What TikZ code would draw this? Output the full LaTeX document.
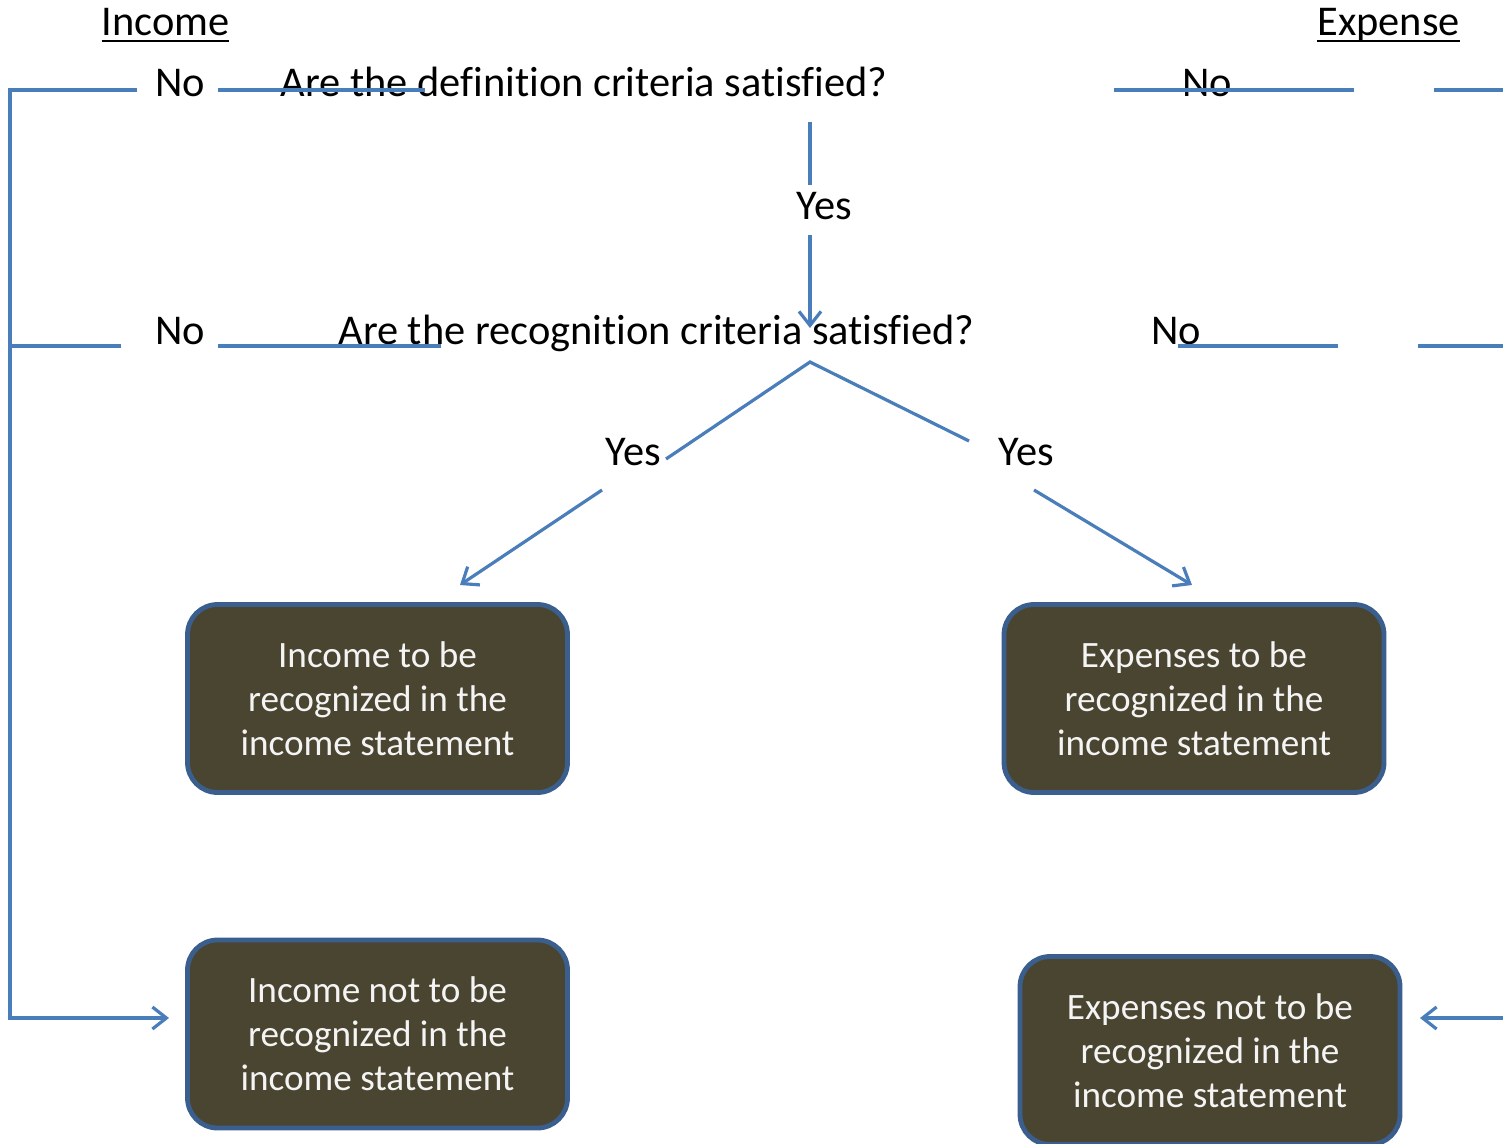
\documentclass[tikz,border=0pt]{standalone}
\usepackage{fontspec}
\setmainfont[Ligatures=NoCommon]{Carlito}
\usetikzlibrary{arrows.meta}
\definecolor{ln}{HTML}{4A7EBB}
\definecolor{bd}{HTML}{3A5F8E}
\definecolor{boxfill}{HTML}{4A4530}
\definecolor{boxtext}{HTML}{F4F4F4}
\newcommand\ulx[1]{\setbox0\hbox{#1}\rlap{\raisebox{-3.2pt}{\rule{\wd0}{1.3pt}}}\box0}
\begin{document}
\begin{tikzpicture}[x=0.5pt,y=-0.5pt,
  conn/.style={draw=ln, line width=1.6pt},
  arr/.style={conn, -{Straight Barb[length=7pt,width=11pt,line width=1.6pt]}},
  lbl/.style={font=\fontsize{21.2}{25}\selectfont, inner sep=0pt, anchor=base},
  rbox/.style={draw=bd, fill=boxfill, line width=2.4pt, rounded corners=15pt,
    text=boxtext, align=center, font=\fontsize{18.6}{22}\selectfont,
    minimum width=190pt, minimum height=94pt, inner sep=0pt}]
\useasboundingbox (0,0) rectangle (1503,1144);

% headings and labels
\node[lbl] (inc) at (165.5,36) {\ulx{Income}};
\node[lbl] (exp) at (1388.5,36) {\ulx{Expense}};
\node[lbl] (q1) at (584,97) {Are the definition criteria satisfied?};
\node[lbl] (q2) at (656.5,344) {Are the recognition criteria satisfied?};
\node[lbl] (no1) at (180,97) {No};
\node[lbl] (no2) at (180,344) {No};
\node[lbl] (no3) at (1207,97) {No};
\node[lbl] (no4) at (1176,344) {No};
\node[lbl] (y1) at (824,220) {Yes};
\node[lbl] (y2) at (633,465) {Yes};
\node[lbl] (y3) at (1026,465) {Yes};

% boxes
\node[rbox] (b1) at (377.5,698.5) {Income to be\\recognized in the\\income statement};
\node[rbox] (b2) at (1194,698.5) {Expenses to be\\recognized in the\\income statement};
\node[rbox] (b3) at (377.5,1034) {Income not to be\\recognized in the\\income statement};
\node[rbox] (b4) at (1210,1050.5) {Expenses not to be\\recognized in the\\income statement};

% coordinates
\coordinate (a1) at (137,90);
\coordinate (tl) at (10,90);
\coordinate (bl) at (10,1018);
\coordinate (t3) at (169,1018);
\coordinate (a2) at (218,90);
\coordinate (a3) at (425,90);
\coordinate (m1) at (121,346);
\coordinate (ml) at (10,346);
\coordinate (m2) at (218,346);
\coordinate (m3) at (441,346);
\coordinate (v1) at (810,122);
\coordinate (v2) at (810,185);
\coordinate (v3) at (810,235);
\coordinate (v4) at (810,328);
\coordinate (d0) at (810,362);
\coordinate (dl) at (666,459);
\coordinate (dr) at (969,441);
\coordinate (el1) at (602,490);
\coordinate (el2) at (460,585);
\coordinate (er1) at (1034,490);
\coordinate (er2) at (1192,585);
\coordinate (r1) at (1114,90);
\coordinate (r2) at (1354,90);
\coordinate (r3) at (1434,90);
\coordinate (r4) at (1503,90);
\coordinate (s1) at (1178,346);
\coordinate (s2) at (1338,346);
\coordinate (s3) at (1418,346);
\coordinate (s4) at (1503,346);
\coordinate (rb) at (1503,1018);
\coordinate (t4) at (1420,1018);

% connectors
\draw[arr] (a1) -- (tl) -- (bl) -- (t3);
\draw[conn] (a2) -- (a3);
\draw[conn] (m1) -- (ml);
\draw[conn] (m2) -- (m3);
\draw[conn] (v1) -- (v2);
\draw[arr] (v3) -- (v4);
\draw[conn] (dl) -- (d0) -- (dr);
\draw[arr] (el1) -- (el2);
\draw[arr] (er1) -- (er2);
\draw[conn] (r1) -- (r2);
\draw[conn] (r3) -- (r4);
\draw[conn] (s1) -- (s2);
\draw[conn] (s3) -- (s4);
\draw[arr] (rb) -- (t4);
\end{tikzpicture}
\end{document}
